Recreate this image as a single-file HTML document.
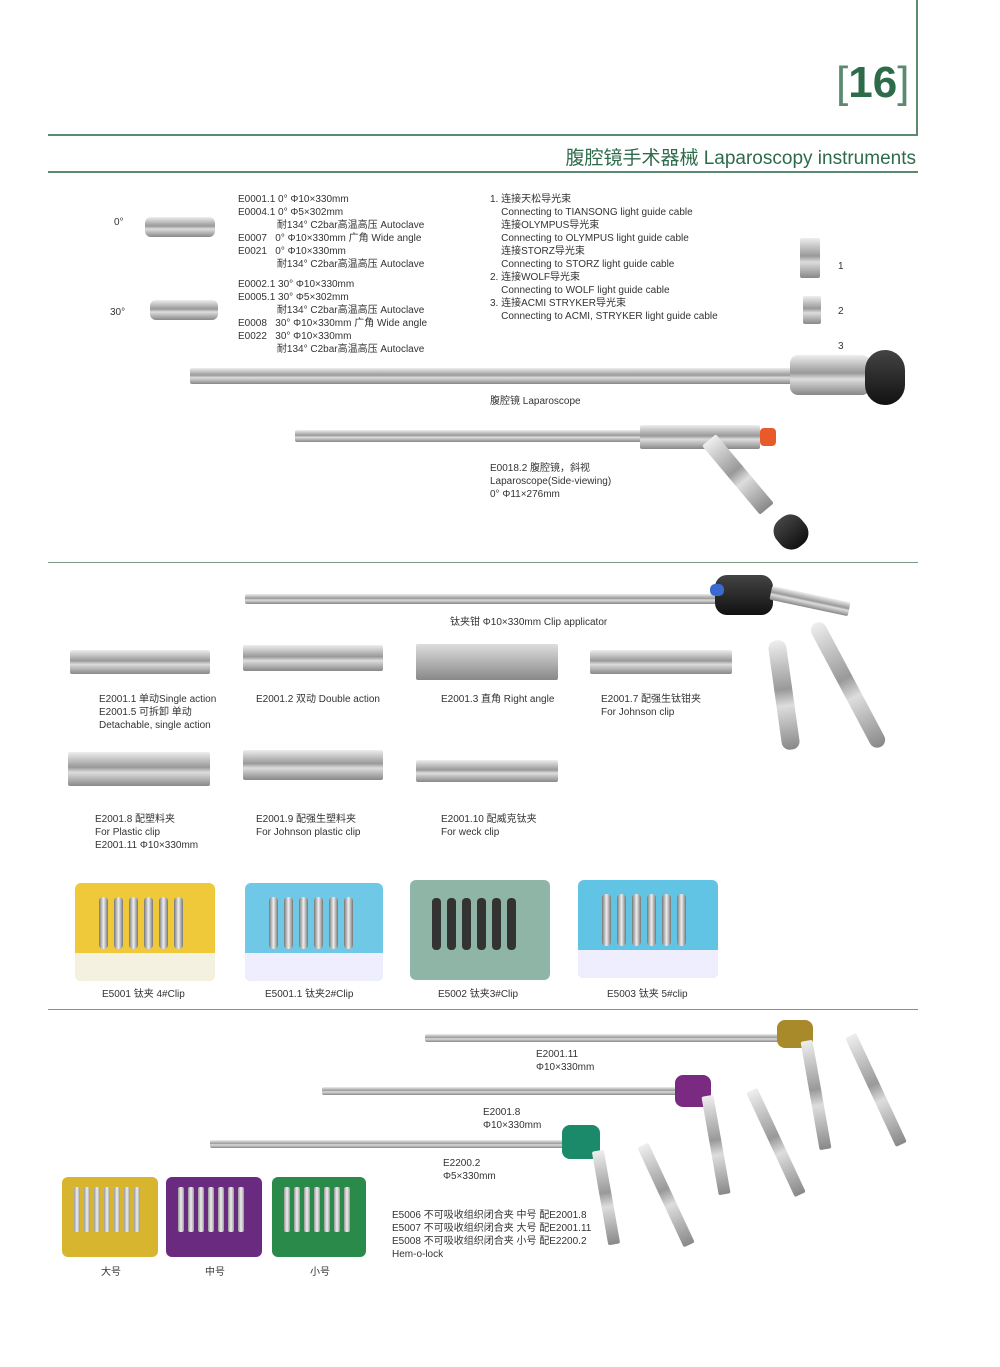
<!DOCTYPE html>
<html><head><meta charset="utf-8"><style>
body{margin:0;width:1000px;height:1367px;background:#fff;position:relative;overflow:hidden;font-family:"Liberation Sans","Noto Sans CJK SC",sans-serif;color:#333}
.a{position:absolute}
.t{position:absolute;font-size:10px;line-height:13px;white-space:nowrap;color:#333}
.ln{position:absolute;background:#5b8a70}
.rod{position:absolute;background:linear-gradient(#eee,#999 45%,#ddd 60%,#888);border-radius:2px}
.dk{position:absolute;background:linear-gradient(#444,#111);border-radius:4px}
.cart{position:absolute;border-radius:6px;overflow:hidden}
.teeth{position:absolute;display:flex;gap:6px}
.teeth i{display:block;width:9px;height:52px;background:linear-gradient(90deg,#777,#eee,#777);border-radius:4px}
.st{position:absolute;display:flex;gap:4px}
.st i{display:block;width:6px;height:45px;background:linear-gradient(90deg,#999,#eee,#999);border-radius:2px}
</style></head><body>
<div class="ln" style="left:916px;top:0;width:2px;height:135px"></div>
<div class="ln" style="left:48px;top:134px;width:870px;height:2px"></div>
<div class="a" style="left:836px;top:58px;font-size:44px;font-weight:bold;color:#2e6b4a;line-height:50px"><span style="font-weight:normal;color:#5b8a70">[</span>16<span style="font-weight:normal;color:#5b8a70">]</span></div>
<div class="a" style="right:84px;top:143px;font-size:19px;color:#2e6b4a;white-space:nowrap">腹腔镜手术器械 Laparoscopy instruments</div>
<div class="ln" style="left:48px;top:171px;width:870px;height:2px"></div>

<div class="rod" style="left:145px;top:217px;width:70px;height:20px;border-radius:6px"></div>
<div class="t" style="left:114px;top:216px">0°</div>
<div class="rod" style="left:150px;top:300px;width:68px;height:20px;border-radius:6px"></div>
<div class="t" style="left:110px;top:306px">30°</div>

<div class="t" style="left:238px;top:193px">E0001.1 0°  Φ10×330mm<br>E0004.1 0°  Φ5×302mm<br>&nbsp;&nbsp;&nbsp;&nbsp;&nbsp;&nbsp;&nbsp;&nbsp;&nbsp;&nbsp;&nbsp;&nbsp;&nbsp;&nbsp;耐134° C2bar高温高压 Autoclave<br>E0007&nbsp;&nbsp;&nbsp;0°  Φ10×330mm 广角 Wide angle<br>E0021&nbsp;&nbsp;&nbsp;0°  Φ10×330mm<br>&nbsp;&nbsp;&nbsp;&nbsp;&nbsp;&nbsp;&nbsp;&nbsp;&nbsp;&nbsp;&nbsp;&nbsp;&nbsp;&nbsp;耐134° C2bar高温高压 Autoclave</div>
<div class="t" style="left:238px;top:278px">E0002.1 30° Φ10×330mm<br>E0005.1 30° Φ5×302mm<br>&nbsp;&nbsp;&nbsp;&nbsp;&nbsp;&nbsp;&nbsp;&nbsp;&nbsp;&nbsp;&nbsp;&nbsp;&nbsp;&nbsp;耐134° C2bar高温高压 Autoclave<br>E0008&nbsp;&nbsp;&nbsp;30° Φ10×330mm 广角 Wide angle<br>E0022&nbsp;&nbsp;&nbsp;30° Φ10×330mm<br>&nbsp;&nbsp;&nbsp;&nbsp;&nbsp;&nbsp;&nbsp;&nbsp;&nbsp;&nbsp;&nbsp;&nbsp;&nbsp;&nbsp;耐134° C2bar高温高压 Autoclave</div>
<div class="t" style="left:490px;top:193px">1. 连接天松导光束<br>&nbsp;&nbsp;&nbsp;&nbsp;Connecting to TIANSONG light guide cable<br>&nbsp;&nbsp;&nbsp;&nbsp;连接OLYMPUS导光束<br>&nbsp;&nbsp;&nbsp;&nbsp;Connecting to OLYMPUS light guide cable<br>&nbsp;&nbsp;&nbsp;&nbsp;连接STORZ导光束<br>&nbsp;&nbsp;&nbsp;&nbsp;Connecting to STORZ light guide cable<br>2. 连接WOLF导光束<br>&nbsp;&nbsp;&nbsp;&nbsp;Connecting to WOLF light guide cable<br>3. 连接ACMI STRYKER导光束<br>&nbsp;&nbsp;&nbsp;&nbsp;Connecting to ACMI, STRYKER light guide cable</div>
<div class="rod" style="left:800px;top:238px;width:20px;height:40px"></div>
<div class="rod" style="left:803px;top:296px;width:18px;height:28px"></div>
<div class="t" style="left:838px;top:260px">1</div>
<div class="t" style="left:838px;top:305px">2</div>
<div class="t" style="left:838px;top:340px">3</div>

<div class="rod" style="left:190px;top:368px;width:610px;height:16px"></div>
<div class="rod" style="left:790px;top:355px;width:80px;height:40px;border-radius:8px"></div>
<div class="dk" style="left:865px;top:350px;width:40px;height:55px;border-radius:20px"></div>
<div class="t" style="left:490px;top:395px">腹腔镜 Laparoscope</div>

<div class="rod" style="left:295px;top:430px;width:360px;height:12px"></div>
<div class="rod" style="left:640px;top:425px;width:120px;height:24px"></div>
<div class="a" style="left:760px;top:428px;width:16px;height:18px;background:#e85a2a;border-radius:4px"></div>
<div class="rod" style="left:700px;top:440px;width:18px;height:90px;transform:rotate(-40deg);transform-origin:top"></div>
<div class="dk" style="left:775px;top:515px;width:32px;height:34px;border-radius:14px;transform:rotate(-40deg)"></div>
<div class="t" style="left:490px;top:462px">E0018.2 腹腔镜，斜视<br>Laparoscope(Side-viewing)<br>0° Φ11×276mm</div>

<div class="ln" style="left:48px;top:562px;width:870px;height:1px;background:#7a9a88"></div>

<div class="rod" style="left:245px;top:594px;width:480px;height:10px"></div>
<div class="dk" style="left:715px;top:575px;width:58px;height:40px;border-radius:12px"></div>
<div class="a" style="left:710px;top:584px;width:14px;height:12px;background:#3a6ad0;border-radius:5px"></div>
<div class="rod" style="left:770px;top:594px;width:80px;height:14px;transform:rotate(12deg)"></div>
<div class="rod" style="left:775px;top:640px;width:18px;height:110px;border-radius:8px;transform:rotate(-8deg)"></div>
<div class="rod" style="left:840px;top:615px;width:16px;height:140px;border-radius:8px;transform:rotate(-28deg)"></div>
<div class="t" style="left:450px;top:616px">钛夹钳 Φ10×330mm Clip applicator</div>

<div class="rod" style="left:70px;top:650px;width:140px;height:24px"></div>
<div class="rod" style="left:243px;top:645px;width:140px;height:26px"></div>
<div class="rod" style="left:416px;top:644px;width:142px;height:36px;background:linear-gradient(#ddd,#888)"></div>
<div class="rod" style="left:590px;top:650px;width:142px;height:24px"></div>
<div class="t" style="left:99px;top:693px">E2001.1 单动Single action<br>E2001.5 可拆卸 单动<br>Detachable, single action</div>
<div class="t" style="left:256px;top:693px">E2001.2 双动 Double action</div>
<div class="t" style="left:441px;top:693px">E2001.3 直角 Right angle</div>
<div class="t" style="left:601px;top:693px">E2001.7 配强生钛钳夹<br>For Johnson clip</div>

<div class="rod" style="left:68px;top:752px;width:142px;height:34px"></div>
<div class="rod" style="left:243px;top:750px;width:140px;height:30px"></div>
<div class="rod" style="left:416px;top:760px;width:142px;height:22px"></div>
<div class="t" style="left:95px;top:813px">E2001.8 配塑料夹<br>For Plastic clip<br>E2001.11 Φ10×330mm</div>
<div class="t" style="left:256px;top:813px">E2001.9 配强生塑料夹<br>For Johnson plastic clip</div>
<div class="t" style="left:441px;top:813px">E2001.10 配威克钛夹<br>For weck clip</div>

<div class="cart" style="left:75px;top:883px;width:140px;height:98px;background:#f0c93a"><div class="a" style="left:0;top:70px;width:140px;height:28px;background:#f5f1e0"></div><div class="teeth" style="left:24px;top:14px"><i></i><i></i><i></i><i></i><i></i><i></i></div></div>
<div class="cart" style="left:245px;top:883px;width:138px;height:98px;background:#6fc8e6"><div class="a" style="left:0;top:70px;width:138px;height:28px;background:#eef"></div><div class="teeth" style="left:24px;top:14px"><i></i><i></i><i></i><i></i><i></i><i></i></div></div>
<div class="cart" style="left:410px;top:880px;width:140px;height:100px;background:#8fb5a6"><div class="teeth" style="left:22px;top:18px"><i style="background:#333"></i><i style="background:#333"></i><i style="background:#333"></i><i style="background:#333"></i><i style="background:#333"></i><i style="background:#333"></i></div></div>
<div class="cart" style="left:578px;top:880px;width:140px;height:98px;background:#62c4e4"><div class="a" style="left:0;top:70px;width:140px;height:28px;background:#eef"></div><div class="teeth" style="left:24px;top:14px"><i></i><i></i><i></i><i></i><i></i><i></i></div></div>
<div class="t" style="left:102px;top:988px">E5001 钛夹 4#Clip</div>
<div class="t" style="left:265px;top:988px">E5001.1 钛夹2#Clip</div>
<div class="t" style="left:438px;top:988px">E5002 钛夹3#Clip</div>
<div class="t" style="left:607px;top:988px">E5003 钛夹 5#clip</div>

<div class="ln" style="left:48px;top:1009px;width:870px;height:1px;background:#7a9a88"></div>

<div class="rod" style="left:425px;top:1034px;width:360px;height:8px"></div>
<div class="a" style="left:777px;top:1020px;width:36px;height:28px;background:#a88a2a;border-radius:8px"></div>
<div class="rod" style="left:810px;top:1040px;width:12px;height:110px;transform:rotate(-10deg)"></div>
<div class="rod" style="left:870px;top:1030px;width:12px;height:120px;transform:rotate(-25deg)"></div>
<div class="t" style="left:536px;top:1048px">E2001.11<br>Φ10×330mm</div>

<div class="rod" style="left:322px;top:1087px;width:360px;height:8px"></div>
<div class="a" style="left:675px;top:1075px;width:36px;height:32px;background:#7a2a80;border-radius:8px"></div>
<div class="rod" style="left:710px;top:1095px;width:12px;height:100px;transform:rotate(-10deg)"></div>
<div class="rod" style="left:770px;top:1085px;width:12px;height:115px;transform:rotate(-25deg)"></div>
<div class="t" style="left:483px;top:1106px">E2001.8<br>Φ10×330mm</div>

<div class="rod" style="left:210px;top:1140px;width:360px;height:8px"></div>
<div class="a" style="left:562px;top:1125px;width:38px;height:34px;background:#1a8a6a;border-radius:8px"></div>
<div class="rod" style="left:600px;top:1150px;width:12px;height:95px;transform:rotate(-10deg)"></div>
<div class="rod" style="left:660px;top:1140px;width:12px;height:110px;transform:rotate(-25deg)"></div>
<div class="t" style="left:443px;top:1157px">E2200.2<br>Φ5×330mm</div>

<div class="cart" style="left:62px;top:1177px;width:96px;height:80px;background:#d7b52e"><div class="st" style="left:12px;top:10px"><i></i><i></i><i></i><i></i><i></i><i></i><i></i></div></div>
<div class="cart" style="left:166px;top:1177px;width:96px;height:80px;background:#6a2a80"><div class="st" style="left:12px;top:10px"><i></i><i></i><i></i><i></i><i></i><i></i><i></i></div></div>
<div class="cart" style="left:272px;top:1177px;width:94px;height:80px;background:#2a8a4a"><div class="st" style="left:12px;top:10px"><i></i><i></i><i></i><i></i><i></i><i></i><i></i></div></div>
<div class="t" style="left:101px;top:1266px">大号</div>
<div class="t" style="left:205px;top:1266px">中号</div>
<div class="t" style="left:310px;top:1266px">小号</div>
<div class="t" style="left:392px;top:1209px">E5006 不可吸收组织闭合夹  中号 配E2001.8<br>E5007 不可吸收组织闭合夹  大号 配E2001.11<br>E5008 不可吸收组织闭合夹  小号 配E2200.2<br>Hem-o-lock</div>
</body></html>
